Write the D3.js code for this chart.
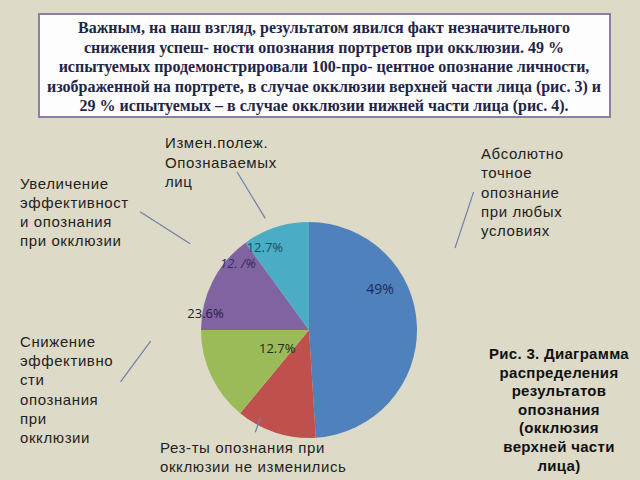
<!DOCTYPE html>
<html>
<head>
<meta charset="utf-8">
<script src="https://cdn.jsdelivr.net/npm/d3@7"></script>
<style>
  body { margin: 0; background: #dedac8; }
  svg { display: block; }
</style>
</head>
<body>
<script>
// slice data (clockwise from 12 o'clock)
var categories = ["Абсолютно точное опознание", "Рез-ты не изменились", "Снижение эффективности", "Увеличение эффективности", "Измен.полеж."];
var values = [49, 12, 14, 15, 10];
var colors = ["#4f81bd", "#c0504d", "#9bbb59", "#8064a2", "#4bacc6"];

// percent labels as printed on the chart
var labelTexts = ["49%", "12.7%", "23.6%", "12. /%", "12.7%"];

var titleLines = [
    "Важным, на наш взгляд, результатом явился факт незначительного",
    "снижения успеш- ности опознания портретов при окклюзии. 49 %",
    "испытуемых продемонстрировали 100-про- центное опознание личности,",
    "изображенной на портрете, в случае окклюзии верхней части лица (рис. 3) и",
    "29 % испытуемых – в случае окклюзии нижней части лица (рис. 4)."
];

var captionLines = ["Рис. 3. Диаграмма", "распределения", "результатов", "опознания", "(окклюзия", "верхней части", "лица)"];

var notes = [
    ["Измен.полеж.", "Опознаваемых", "лиц"],
    ["Увеличение", "эффективност", "и опознания", "при окклюзии"],
    ["Абсолютно", "точное", "опознание", "при любых", "условиях"],
    ["Снижение", "эффективно", "сти", "опознания", "при", "окклюзии"],
    ["Рез-ты опознания при", "окклюзии не изменились"]
];

var width = 640, height = 480;
var cx = 309, cy = 330, radius = 108;

var svg = d3.select("body").append("svg")
    .attr("width", width)
    .attr("height", height);

// title box
svg.append("rect")
    .attr("x", 39).attr("y", 14)
    .attr("width", 571).attr("height", 103)
    .attr("fill", "#fdfdfd")
    .attr("stroke", "#8b80a3")
    .attr("stroke-width", 2);

svg.append("g").selectAll("text")
    .data(titleLines)
    .enter().append("text")
    .attr("x", 324)
    .attr("y", function(d, i) { return 33 + i * 19.5; })
    .attr("text-anchor", "middle")
    .style("font-family", "Liberation Serif, serif")
    .style("font-weight", "bold")
    .style("font-size", "16px")
    .style("fill", "#1f2547")
    .text(function(d) { return d; });

// pie
var g = svg.append("g")
    .attr("transform", "translate(" + cx + "," + cy + ")");

var pie = d3.pie().sort(null).value(function(d) { return d; });
var arc = d3.arc().innerRadius(0).outerRadius(radius);

g.selectAll("path")
    .data(pie(values))
    .enter().append("path")
    .attr("d", arc)
    .attr("fill", function(d, i) { return colors[i]; });

// label placement in polar coords: angle (deg from top, clockwise), radius fraction
var labelPlace = [[60, 0.76], [240, 0.34], [279, 0.97], [313, 0.9], [332, 0.87]];
var labelColors = ["#1c2c50", "#1e2a1a", "#2a1a40", "#3a2a5a", "#1d4a5a"];

g.selectAll(".lbl")
    .data(labelTexts)
    .enter().append("text")
    .attr("class", "lbl")
    .attr("transform", function(d, i) {
        var p = d3.pointRadial(labelPlace[i][0] * Math.PI / 180, labelPlace[i][1] * radius);
        return "translate(" + p[0] + "," + p[1] + ")";
    })
    .attr("text-anchor", "middle")
    .attr("dy", "0.35em")
    .style("font-family", "Open Sans, sans-serif")
    .style("font-size", function(d, i) { return i === 0 ? "14px" : "13px"; })
    .style("font-style", function(d, i) { return i === 3 ? "italic" : "normal"; })
    .style("fill", function(d, i) { return labelColors[i]; })
    .text(function(d) { return d; });

// callout lines: [angle, radius] start -> end, relative to pie
var callouts = [
    [[335.5, 1.61], [338.6, 1.11]],
    [[305, 1.91], [306, 1.36]],
    [[50, 1.99], [60.7, 1.55]],
    [[254.6, 1.81], [266, 1.47]],
    [[207.7, 1.07], [209, 0.93]]
];

g.selectAll(".callout")
    .data(callouts)
    .enter().append("line")
    .attr("class", "callout")
    .each(function(d) {
        var a = d3.pointRadial(d[0][0] * Math.PI / 180, d[0][1] * radius);
        var b = d3.pointRadial(d[1][0] * Math.PI / 180, d[1][1] * radius);
        d3.select(this)
            .attr("x1", a[0]).attr("y1", a[1])
            .attr("x2", b[0]).attr("y2", b[1]);
    })
    .attr("stroke", "#6f7fa8")
    .attr("stroke-width", 1.2);

// note blocks
var notePos = [[165, 148, 19.5], [20, 189, 19], [481, 159, 19.3], [20, 347, 19.2], [160, 453, 19]];

notes.forEach(function(lines, k) {
    svg.append("g").selectAll("text")
        .data(lines)
        .enter().append("text")
        .attr("x", notePos[k][0])
        .attr("y", function(d, i) { return notePos[k][1] + i * notePos[k][2]; })
        .style("font-family", "Liberation Sans, Arial, sans-serif")
        .style("font-size", "15px")
        .style("letter-spacing", "0.6px")
        .style("fill", "#222")
        .text(function(d) { return d; });
});

// caption
svg.append("g").selectAll("text")
    .data(captionLines)
    .enter().append("text")
    .attr("x", 559)
    .attr("y", function(d, i) { return 359 + i * 18.6; })
    .attr("text-anchor", "middle")
    .style("font-family", "Liberation Sans, Arial, sans-serif")
    .style("font-weight", "bold")
    .style("font-size", "15px")
    .style("letter-spacing", "0.3px")
    .style("fill", "#111")
    .text(function(d) { return d; });
</script>
</body>
</html>
